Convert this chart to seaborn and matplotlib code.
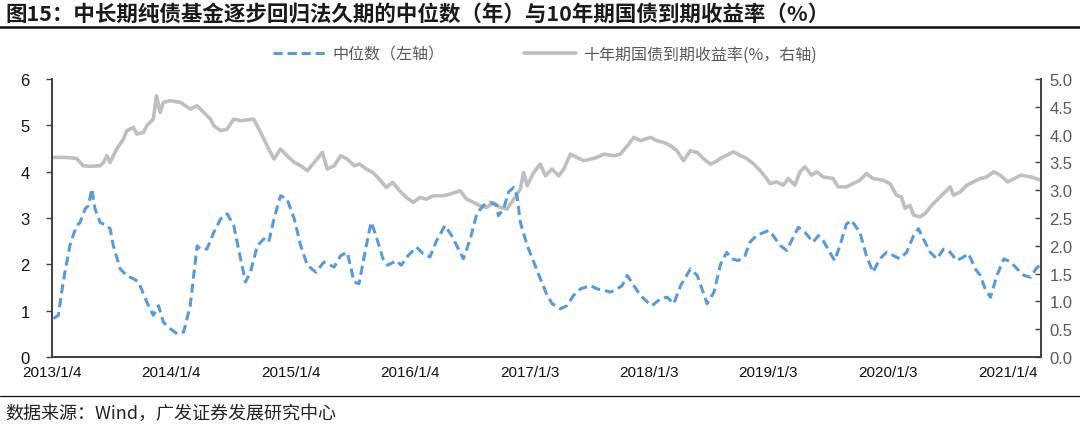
import pandas as pd
import seaborn as sns
import matplotlib.pyplot as plt

# Datos

# Mediana de la duración (años), eje izquierdo
fechas_mediana = [
    "2013-01-09", "2013-01-24", "2013-02-03", "2013-02-13", "2013-02-28", "2013-03-10",
    "2013-03-21", "2013-03-31", "2013-04-16", "2013-04-26", "2013-05-06", "2013-05-16",
    "2013-06-01", "2013-06-21", "2013-07-01", "2013-07-11", "2013-08-01", "2013-08-21",
    "2013-09-10", "2013-09-26", "2013-10-21", "2013-11-10", "2013-11-26", "2013-12-11",
    "2014-01-01", "2014-01-22", "2014-02-11", "2014-03-03", "2014-03-24", "2014-04-03",
    "2014-04-23", "2014-05-14", "2014-06-04", "2014-06-24", "2014-07-14", "2014-08-04",
    "2014-08-19", "2014-09-03", "2014-09-24", "2014-10-14", "2014-10-29", "2014-11-14",
    "2014-12-04", "2014-12-24", "2015-01-15", "2015-02-04", "2015-02-24", "2015-03-22",
    "2015-04-16", "2015-05-17", "2015-06-06", "2015-06-26", "2015-07-17", "2015-08-01",
    "2015-08-23", "2015-09-07", "2015-09-22", "2015-10-13", "2015-10-28", "2015-11-23",
    "2015-12-08", "2015-12-29", "2016-01-24", "2016-02-13", "2016-03-05", "2016-03-25",
    "2016-04-20", "2016-05-10", "2016-05-31", "2016-06-15", "2016-07-06", "2016-07-26",
    "2016-08-15", "2016-09-05", "2016-09-25", "2016-09-30", "2016-10-16", "2016-10-31",
    "2016-11-16", "2016-11-26", "2016-12-06", "2016-12-27", "2017-01-16", "2017-02-05",
    "2017-02-26", "2017-03-13", "2017-04-08", "2017-04-28", "2017-05-18", "2017-06-08",
    "2017-07-08", "2017-07-29", "2017-08-18", "2017-09-08", "2017-09-28", "2017-10-13",
    "2017-10-29", "2017-11-18", "2017-12-08", "2017-12-29", "2018-01-13", "2018-02-08",
    "2018-02-28", "2018-03-20", "2018-04-10", "2018-05-10", "2018-05-31", "2018-06-30",
    "2018-07-21", "2018-08-10", "2018-08-29", "2018-09-13", "2018-10-03", "2018-10-24",
    "2018-11-08", "2018-11-28", "2019-01-03", "2019-01-18", "2019-02-08", "2019-02-28",
    "2019-03-15", "2019-04-05", "2019-04-25", "2019-05-20", "2019-06-05", "2019-06-20",
    "2019-07-10", "2019-07-25", "2019-08-10", "2019-08-30", "2019-09-14", "2019-10-10",
    "2019-10-30", "2019-11-19", "2019-12-10", "2019-12-31", "2020-01-20", "2020-02-09",
    "2020-03-01", "2020-03-22", "2020-04-06", "2020-04-21", "2020-05-12", "2020-06-01",
    "2020-06-22", "2020-07-12", "2020-08-01", "2020-08-22", "2020-09-06", "2020-09-27",
    "2020-10-12", "2020-10-27", "2020-11-12", "2020-12-02", "2020-12-23", "2021-01-13",
    "2021-02-02", "2021-02-23", "2021-03-15", "2021-03-31", "2021-04-15",
]
mediana = [
    0.83, 0.90, 1.40, 1.83, 2.40, 2.62,
    2.84, 2.90, 3.20, 3.27, 3.63, 3.20,
    2.90, 2.84, 2.77, 2.40, 1.90, 1.76,
    1.69, 1.62, 1.19, 0.90, 1.11, 0.75,
    0.61, 0.50, 0.54, 1.11, 2.40, 2.33,
    2.33, 2.69, 2.98, 3.09, 2.84, 2.12,
    1.62, 1.83, 2.40, 2.55, 2.48, 2.98,
    3.48, 3.41, 2.98, 2.40, 1.98, 1.83,
    2.05, 1.94, 2.19, 2.26, 1.62, 1.58,
    2.40, 2.91, 2.62, 2.12, 1.98, 2.08,
    1.98, 2.19, 2.37, 2.23, 2.16, 2.51,
    2.84, 2.62, 2.33, 2.12, 2.55, 3.09,
    3.27, 3.34, 3.27, 3.05, 3.20, 3.56,
    3.66, 3.48, 2.91, 2.41, 2.05, 1.69,
    1.33, 1.15, 1.04, 1.11, 1.33, 1.47,
    1.54, 1.47, 1.44, 1.40, 1.47, 1.54,
    1.76, 1.54, 1.33, 1.19, 1.11, 1.26,
    1.29, 1.15, 1.54, 1.90, 1.76, 1.15,
    1.40, 2.00, 2.26, 2.12, 2.08, 2.19,
    2.48, 2.62, 2.73, 2.62, 2.41, 2.30,
    2.51, 2.80, 2.69, 2.48, 2.62, 2.51,
    2.26, 2.08, 2.41, 2.87, 2.95, 2.69,
    2.19, 1.83, 2.12, 2.26, 2.19, 2.12,
    2.26, 2.62, 2.77, 2.55, 2.26, 2.12,
    2.33, 2.26, 2.08, 2.16, 2.23, 1.90,
    1.76, 1.47, 1.29, 1.76, 2.12, 2.05,
    1.90, 1.76, 1.72, 1.90, 2.01,
]

# Rendimiento del bono a 10 años (%), eje derecho
fechas_bono = [
    "2013-01-09", "2013-02-18", "2013-03-21", "2013-04-10", "2013-05-01", "2013-06-01",
    "2013-06-11", "2013-06-21", "2013-07-01", "2013-07-21", "2013-08-11", "2013-08-21",
    "2013-09-10", "2013-09-21", "2013-10-11", "2013-10-21", "2013-10-31", "2013-11-10",
    "2013-11-20", "2013-12-01", "2013-12-11", "2014-01-01", "2014-02-01", "2014-03-03",
    "2014-03-24", "2014-04-13", "2014-05-04", "2014-05-14", "2014-06-04", "2014-06-24",
    "2014-07-14", "2014-08-04", "2014-09-13", "2014-10-04", "2014-10-24", "2014-11-14",
    "2014-12-04", "2014-12-24", "2015-01-15", "2015-02-04", "2015-02-24", "2015-03-17",
    "2015-04-11", "2015-04-26", "2015-05-17", "2015-06-06", "2015-06-26", "2015-07-17",
    "2015-08-03", "2015-08-23", "2015-09-12", "2015-10-02", "2015-10-23", "2015-11-12",
    "2015-12-03", "2015-12-24", "2016-01-14", "2016-02-03", "2016-02-23", "2016-03-15",
    "2016-04-14", "2016-05-05", "2016-06-05", "2016-06-25", "2016-07-16", "2016-08-05",
    "2016-08-25", "2016-09-15", "2016-10-05", "2016-10-26", "2016-11-16", "2016-12-06",
    "2016-12-16", "2016-12-27", "2017-01-16", "2017-02-05", "2017-02-21", "2017-03-13",
    "2017-04-02", "2017-04-18", "2017-05-08", "2017-05-28", "2017-06-18", "2017-07-08",
    "2017-07-29", "2017-08-18", "2017-09-18", "2017-10-08", "2017-10-29", "2017-11-18",
    "2017-12-08", "2018-01-08", "2018-01-28", "2018-02-17", "2018-03-10", "2018-03-30",
    "2018-04-19", "2018-05-10", "2018-05-31", "2018-06-20", "2018-07-11", "2018-07-31",
    "2018-08-09", "2018-08-29", "2018-09-18", "2018-10-08", "2018-10-29", "2018-11-18",
    "2018-12-08", "2018-12-29", "2019-01-08", "2019-01-28", "2019-02-18", "2019-03-05",
    "2019-03-25", "2019-04-10", "2019-04-25", "2019-05-15", "2019-05-31", "2019-06-20",
    "2019-07-20", "2019-08-05", "2019-08-30", "2019-09-19", "2019-10-10", "2019-10-30",
    "2019-11-19", "2019-12-20", "2020-01-10", "2020-01-30", "2020-02-14", "2020-02-25",
    "2020-03-11", "2020-03-22", "2020-04-11", "2020-04-26", "2020-05-17", "2020-06-06",
    "2020-06-27", "2020-07-12", "2020-07-22", "2020-08-12", "2020-09-01", "2020-09-21",
    "2020-10-12", "2020-11-01", "2020-11-22", "2020-12-12", "2021-01-04", "2021-01-24",
    "2021-02-13", "2021-03-15", "2021-04-15",
]
bono = [
    3.59, 3.59, 3.57, 3.44, 3.43, 3.44,
    3.50, 3.62, 3.50, 3.74, 3.92, 4.07,
    4.13, 4.01, 4.04, 4.16, 4.22, 4.28,
    4.70, 4.40, 4.58, 4.61, 4.58, 4.46,
    4.52, 4.40, 4.28, 4.16, 4.07, 4.10,
    4.28, 4.25, 4.28, 4.04, 3.80, 3.56,
    3.74, 3.62, 3.50, 3.44, 3.35, 3.50,
    3.68, 3.38, 3.44, 3.62, 3.56, 3.44,
    3.47, 3.38, 3.32, 3.20, 3.05, 3.14,
    2.99, 2.87, 2.78, 2.87, 2.84, 2.90,
    2.90, 2.93, 2.99, 2.84, 2.78, 2.72,
    2.69, 2.78, 2.69, 2.66, 2.84, 3.02,
    3.32, 3.08, 3.32, 3.47, 3.26, 3.38,
    3.26, 3.38, 3.65, 3.59, 3.53, 3.56,
    3.59, 3.65, 3.62, 3.65, 3.80, 3.95,
    3.89, 3.95, 3.89, 3.86, 3.80, 3.71,
    3.53, 3.71, 3.68, 3.56, 3.47, 3.53,
    3.57, 3.63, 3.69, 3.63, 3.57, 3.48,
    3.36, 3.21, 3.12, 3.15, 3.09, 3.21,
    3.09, 3.33, 3.42, 3.27, 3.33, 3.24,
    3.21, 3.06, 3.06, 3.12, 3.18, 3.30,
    3.21, 3.18, 3.12, 2.91, 2.88, 2.67,
    2.73, 2.55, 2.52, 2.58, 2.73, 2.85,
    2.97, 3.06, 2.91, 2.97, 3.09, 3.15,
    3.21, 3.24, 3.33, 3.27, 3.15, 3.21,
    3.27, 3.24, 3.18,
]

ticks_x = ["2013-01-04", "2014-01-04", "2015-01-04", "2016-01-04", "2017-01-03",
           "2018-01-03", "2019-01-03", "2020-01-03", "2021-01-04"]
etiquetas_x = ["2013/1/4", "2014/1/4", "2015/1/4", "2016/1/4", "2017/1/3",
               "2018/1/3", "2019/1/3", "2020/1/3", "2021/1/4"]
limites_x = ["2013-01-04", "2021-04-16"]

titulo = "图15：中长期纯债基金逐步回归法久期的中位数（年）与10年期国债到期收益率（%）"
fuente = "数据来源：Wind，广发证券发展研究中心"
nombre_mediana = "中位数（左轴）"
nombre_bono = "十年期国债到期收益率(%，右轴)"

AZUL = "#5B9BD5"
GRIS = "#BFBFBF"
EJE = "#404040"
LATIN = ["Liberation Sans", "DejaVu Sans"]
CJK = ["Noto Sans CJK SC", "DejaVu Sans"]


def graficaDobleEje():
    sns.set_theme(style="white")
    plt.rcParams["font.family"] = ["Liberation Sans", "Noto Sans CJK SC", "DejaVu Sans"]

    df_med = pd.DataFrame({"fecha": pd.to_datetime(fechas_mediana), "valor": mediana})
    df_bono = pd.DataFrame({"fecha": pd.to_datetime(fechas_bono), "valor": bono})

    fig = plt.figure(figsize=(10.8, 4.27), dpi=100)
    ax = fig.add_axes([0.048, 0.1616, 0.916, 0.651])
    ax2 = ax.twinx()

    sns.lineplot(data=df_bono, x="fecha", y="valor", ax=ax2, color=GRIS,
                 linewidth=2.6, label=nombre_bono, legend=False)
    sns.lineplot(data=df_med, x="fecha", y="valor", ax=ax, color=AZUL,
                 linewidth=2.2, linestyle=(0, (3, 1.6)), label=nombre_mediana, legend=False)

    # la serie azul por encima de la gris
    ax.set_zorder(ax2.get_zorder() + 1)
    ax.patch.set_visible(False)

    ax.set_xlim(pd.to_datetime(limites_x[0]), pd.to_datetime(limites_x[1]))
    ax.set_ylim(0, 6)
    ax2.set_ylim(0, 5)
    ax.set_yticks(range(0, 7))
    ax2.set_yticks([i * 0.5 for i in range(11)])
    ax2.set_yticklabels([f"{i * 0.5:.1f}" for i in range(11)])
    ax.set_xticks(pd.to_datetime(ticks_x))
    ax.set_xticklabels(etiquetas_x)
    ax.set_xlabel("")
    ax.set_ylabel("")
    ax2.set_xlabel("")
    ax2.set_ylabel("")

    for a in (ax, ax2):
        a.grid(False)
        a.spines["top"].set_visible(False)
        for s in ("left", "right", "bottom"):
            a.spines[s].set_color(EJE)
            a.spines[s].set_linewidth(1.2)

    ax.tick_params(axis="x", direction="in", length=5, width=1, color=EJE,
                   labelsize=11, labelcolor="#111111", pad=6)
    ax.tick_params(axis="y", direction="out", length=4, width=1, color=EJE,
                   labelsize=12, labelcolor="#111111", pad=12)
    ax2.tick_params(axis="y", direction="in", length=4, width=1, color=EJE,
                    labelsize=12, labelcolor="#595959", pad=6)
    for t in ax.get_xticklabels() + ax.get_yticklabels() + ax2.get_yticklabels():
        t.set_fontfamily(LATIN)

    h1, l1 = ax.get_legend_handles_labels()
    h2, l2 = ax2.get_legend_handles_labels()
    fig.legend(h1 + h2, l1 + l2, loc="center", bbox_to_anchor=(0.505, 0.871), ncol=2,
               frameon=False, handlelength=3.2, handletextpad=0.5, columnspacing=5.0,
               prop={"family": CJK, "size": 11.5}, labelcolor="#595959")

    fig.text(0.005, 0.966, titulo, fontsize=15.5, fontweight="bold", color="#1a1a1a",
             family=CJK, va="center", ha="left")
    fig.add_artist(plt.Line2D([0, 1], [0.934, 0.934], color="#111111", linewidth=1.8))
    fig.add_artist(plt.Line2D([0, 1], [0.07, 0.07], color="#111111", linewidth=0.9))
    fig.text(0.005, 0.03, fuente, fontsize=13, color="#222222", family=CJK,
             va="center", ha="left")

    plt.savefig("out.png", dpi=100)
    limpiar()
    return 0


def limpiar():
    plt.clf()
    plt.close()


graficaDobleEje()
